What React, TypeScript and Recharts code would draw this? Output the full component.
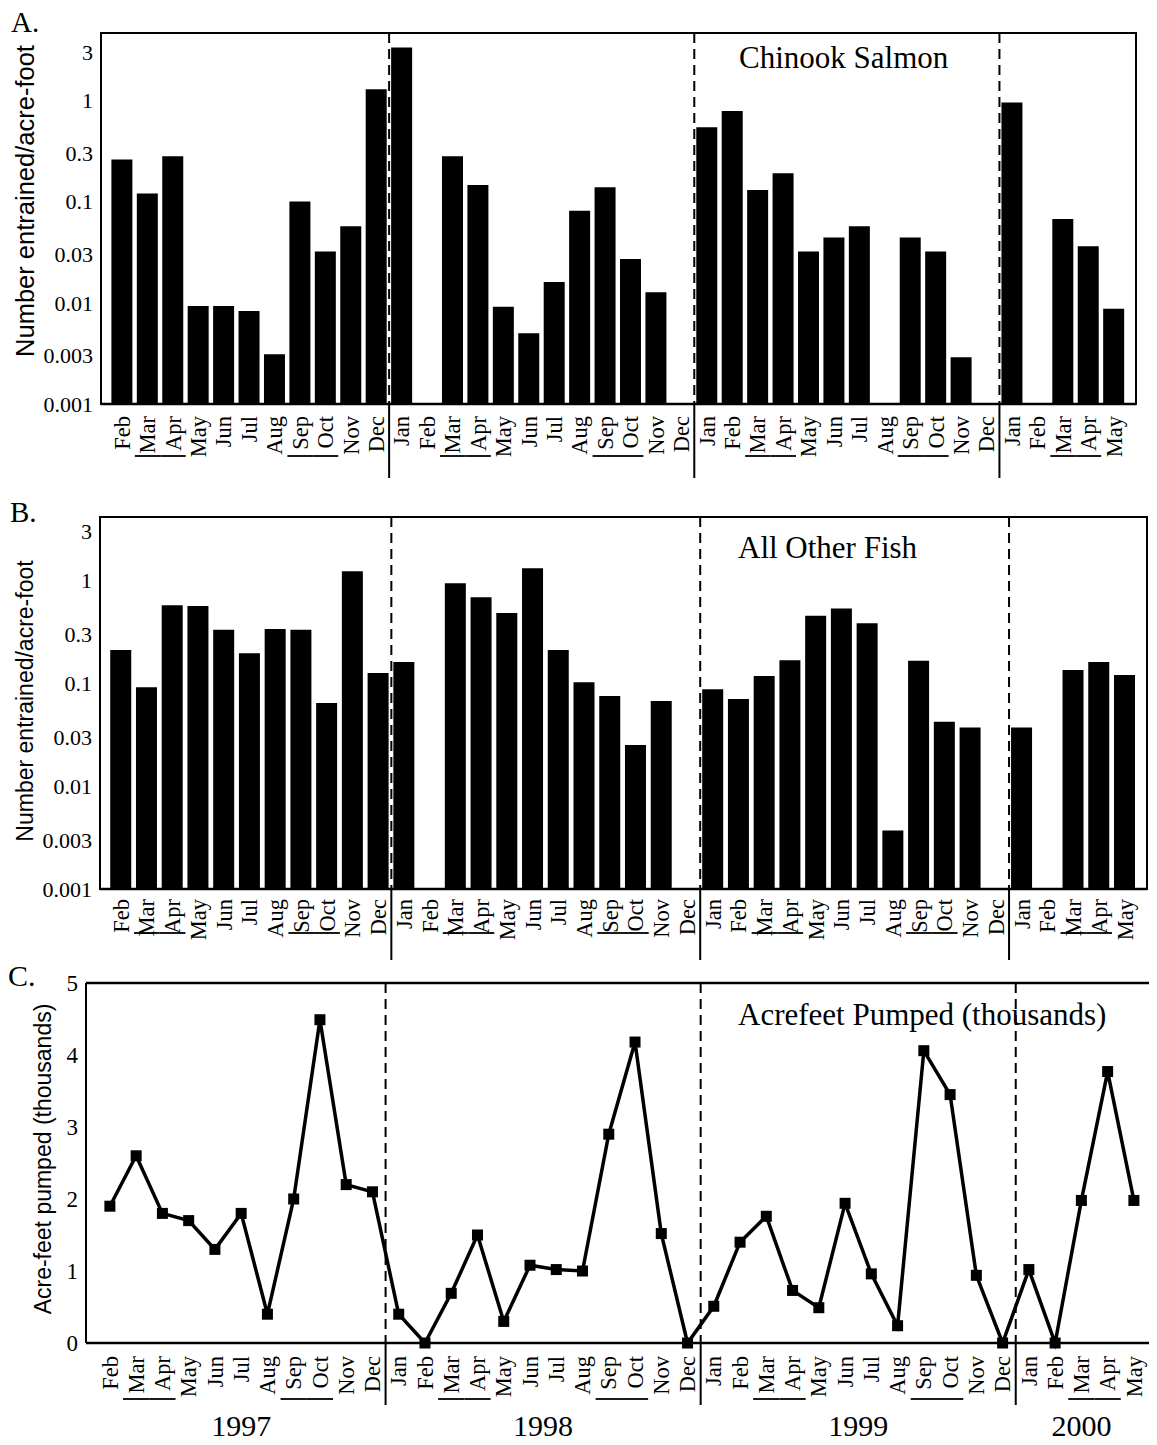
import React from "react";
import {
  Bar,
  BarChart,
  Line,
  LineChart,
  ReferenceArea,
  ReferenceLine,
  XAxis,
  YAxis,
} from "recharts";

// Feb 1997 .. May 2000
const months = [
  "Feb", "Mar", "Apr", "May", "Jun", "Jul", "Aug", "Sep", "Oct", "Nov", "Dec",
  "Jan", "Feb", "Mar", "Apr", "May", "Jun", "Jul", "Aug", "Sep", "Oct", "Nov", "Dec",
  "Jan", "Feb", "Mar", "Apr", "May", "Jun", "Jul", "Aug", "Sep", "Oct", "Nov", "Dec",
  "Jan", "Feb", "Mar", "Apr", "May",
];
const yearLabels = ["1997", "1998", "1999", "2000"];
const monthsPerYear = [11, 12, 12, 5];
const underlinedMonths = ["Mar", "Apr", "Sep", "Oct"];

// number entrained per acre-foot (null = none)
const chinook = [
  0.26, 0.12, 0.28, 0.0093, 0.0093, 0.0083, 0.0031, 0.1, 0.032, 0.057, 1.28,
  3.3, null, 0.28, 0.145, 0.0091, 0.005, 0.016, 0.081, 0.138, 0.027, 0.0127, null,
  0.54, 0.78, 0.13, 0.19, 0.032, 0.044, 0.057, null, 0.044, 0.032, 0.0029, null,
  0.95, null, 0.067, 0.036, 0.0087,
];
const otherFish = [
  0.21, 0.091, 0.57, 0.56, 0.33, 0.195, 0.335, 0.33, 0.064, 1.22, 0.125,
  0.16, null, 0.93, 0.68, 0.48, 1.3, 0.21, 0.102, 0.075, 0.025, 0.067, null,
  0.087, 0.07, 0.117, 0.167, 0.45, 0.53, 0.38, 0.0037, 0.165, 0.042, 0.037, null,
  0.037, null, 0.134, 0.16, 0.12,
];
// acre-feet pumped, thousands
const acreFeet = [
  1.9, 2.6, 1.8, 1.7, 1.3, 1.8, 0.4, 2.0, 4.49, 2.2, 2.1,
  0.4, 0, 0.69, 1.5, 0.3, 1.08, 1.02, 1.0, 2.9, 4.18, 1.52, 0,
  0.51, 1.4, 1.76, 0.73, 0.49, 1.94, 0.96, 0.24, 4.06, 3.45, 0.94, 0,
  1.02, 0, 1.98, 3.77, 1.98,
];

const logTicks = [0.001, 0.003, 0.01, 0.03, 0.1, 0.3, 1, 3];
const pumpTicks = [0, 1, 2, 3, 4, 5];

const data = months.map((m, i) => ({
  i,
  month: m,
  chinook: chinook[i],
  other: otherFish[i],
  pumped: acreFeet[i],
}));
const monthIdx = months.map((_, i) => i);
const yearStarts = monthsPerYear.map((_, k) =>
  monthsPerYear.slice(0, k).reduce((a, b) => a + b, 0)
);
const separators = yearStarts.slice(1).map((s) => s - 0.5);

const W = 1157;
const SERIF = "'Liberation Serif', 'Times New Roman', serif";
const SANS = "'Liberation Sans', Arial, sans-serif";

const geoA = { top: 33, bottom: 404, left: 101, right: 1136, height: 480, xMin: -0.83, xMax: 39.87, yMax: 4.6 };
const geoB = { top: 37, bottom: 409, left: 100, right: 1147, height: 480, xMin: -0.82, xMax: 39.86, yMax: 4.1 };
const geoC = { top: 23, bottom: 383, left: 86, right: 1157, height: 485, xMin: -0.91, xMax: 39.88, yMax: 5 };

const stepOf = (g: typeof geoA) => (g.right - g.left) / (g.xMax - g.xMin);

function MonthTick(props: any) {
  const { x, y, payload, step, gap, underlineDy, showYears } = props;
  const idx = payload.value as number;
  const label = months[idx];
  const k = yearStarts.indexOf(idx);
  return (
    <g>
      <text
        x={x - gap}
        y={y}
        transform={`rotate(-90, ${x}, ${y})`}
        textAnchor="end"
        dy="0.34em"
        fontFamily={SERIF}
        fontSize={22.5}
        fill="#000"
      >
        {label}
      </text>
      {underlinedMonths.includes(label) && (
        <line
          x1={x - step / 2}
          x2={x + step / 2}
          y1={y + underlineDy}
          y2={y + underlineDy}
          stroke="#000"
          strokeWidth={1.8}
        />
      )}
      {showYears && k >= 0 && (
        <text
          x={x + ((monthsPerYear[k] - 1) / 2) * step}
          y={y + 93}
          textAnchor="middle"
          fontFamily={SERIF}
          fontSize={30}
          fill="#000"
        >
          {yearLabels[k]}
        </text>
      )}
    </g>
  );
}

const separatorShape = (ext: number) => (p: any) => {
  const top = Math.min(p.y1, p.y2);
  const bottom = Math.max(p.y1, p.y2);
  return (
    <g>
      <line x1={p.x1} x2={p.x1} y1={top} y2={bottom} stroke="#000" strokeWidth={2} strokeDasharray="10 6" />
      <line x1={p.x1} x2={p.x1} y1={bottom} y2={bottom + ext} stroke="#000" strokeWidth={2} />
    </g>
  );
};

const axisTitle = (text: string, size: number, cx: number, cy: number) => ({
  content: () => (
    <text
      x={cx}
      y={cy}
      transform={`rotate(-90, ${cx}, ${cy})`}
      textAnchor="middle"
      dy="0.35em"
      fontFamily={SANS}
      fontSize={size}
      fill="#000"
    >
      {text}
    </text>
  ),
});

function LogPanel({
  geo,
  dataKey,
  titleSize,
  titleCy,
  gap,
  underlineDy,
  ext,
}: {
  geo: typeof geoA;
  dataKey: string;
  titleSize: number;
  titleCy: number;
  gap: number;
  underlineDy: number;
  ext: number;
}) {
  const step = stepOf(geo);
  return (
    <BarChart
      width={W}
      height={geo.height}
      data={data}
      margin={{ top: geo.top, right: W - geo.right, bottom: 0, left: 0 }}
    >
      <XAxis
        dataKey="i"
        type="number"
        domain={[geo.xMin, geo.xMax]}
        allowDataOverflow
        ticks={monthIdx}
        interval={0}
        height={geo.height - geo.bottom}
        tickLine={false}
        tickSize={0}
        tickMargin={0}
        axisLine={{ stroke: "#000", strokeWidth: 2.5 }}
        tick={<MonthTick step={step} gap={gap} underlineDy={underlineDy} />}
      />
      <YAxis
        scale="log"
        type="number"
        domain={[0.001, geo.yMax]}
        allowDataOverflow
        ticks={logTicks}
        interval={0}
        width={geo.left}
        tickLine={false}
        axisLine={{ stroke: "#000", strokeWidth: 2 }}
        tickFormatter={(v: number) => String(v)}
        tick={{ fontFamily: SERIF, fontSize: 22, fill: "#000" }}
        label={axisTitle("Number entrained/acre-foot", titleSize, 25, titleCy)}
      />
      <ReferenceArea
        x1={geo.xMin}
        x2={geo.xMax}
        y1={0.001}
        y2={geo.yMax}
        fill="none"
        stroke="#000"
        strokeWidth={2}
        ifOverflow="visible"
      />
      {separators.map((s) => (
        <ReferenceLine key={s} x={s} shape={separatorShape(ext)} />
      ))}
      <Bar dataKey={dataKey} fill="#000" barSize={21} isAnimationActive={false} />
    </BarChart>
  );
}

function PumpPanel() {
  const geo = geoC;
  const step = stepOf(geo);
  return (
    <LineChart
      width={W}
      height={geo.height}
      data={data}
      margin={{ top: geo.top, right: W - geo.right, bottom: 0, left: 0 }}
    >
      <XAxis
        dataKey="i"
        type="number"
        domain={[geo.xMin, geo.xMax]}
        allowDataOverflow
        ticks={monthIdx}
        interval={0}
        height={geo.height - geo.bottom}
        tickLine={false}
        tickSize={0}
        tickMargin={0}
        axisLine={{ stroke: "#000", strokeWidth: 2.5 }}
        tick={<MonthTick step={step} gap={13} underlineDy={56} showYears />}
      />
      <YAxis
        type="number"
        domain={[0, geo.yMax]}
        ticks={pumpTicks}
        interval={0}
        width={geo.left}
        tickLine={false}
        axisLine={{ stroke: "#000", strokeWidth: 2 }}
        tick={{ fontFamily: SERIF, fontSize: 23, fill: "#000" }}
        label={axisTitle("Acre-feet pumped (thousands)", 23, 43, 199)}
      />
      <ReferenceLine y={geo.yMax} stroke="#000" strokeWidth={2.5} />
      {separators.map((s) => (
        <ReferenceLine key={s} x={s} shape={separatorShape(62)} />
      ))}
      <Line
        dataKey="pumped"
        type="linear"
        stroke="#000"
        strokeWidth={3.5}
        isAnimationActive={false}
        dot={(p: any) => (
          <rect key={`d${p.index}`} x={p.cx - 5.5} y={p.cy - 5.5} width={11} height={11} fill="#000" />
        )}
      />
    </LineChart>
  );
}

const abs = (left: number, top: number, size: number): React.CSSProperties => ({
  position: "absolute",
  left,
  top,
  fontFamily: SERIF,
  fontSize: size,
  lineHeight: 1,
  whiteSpace: "nowrap",
  color: "#000",
});

export default function App() {
  return (
    <div
      style={{
        position: "relative",
        width: W,
        height: 1445,
        margin: "-8px 0 0 -8px",
        background: "#fff",
        overflow: "hidden",
      }}
    >
      <div style={{ position: "absolute", left: 0, top: 0 }}>
        <LogPanel geo={geoA} dataKey="chinook" titleSize={25.5} titleCy={201} gap={12} underlineDy={52} ext={74} />
      </div>
      <div style={{ position: "absolute", left: 0, top: 480 }}>
        <LogPanel geo={geoB} dataKey="other" titleSize={23} titleCy={221} gap={10} underlineDy={44} ext={72} />
      </div>
      <div style={{ position: "absolute", left: 0, top: 960 }}>
        <PumpPanel />
      </div>
      <div style={abs(11, 8, 29)}>A.</div>
      <div style={abs(10, 498, 29)}>B.</div>
      <div style={abs(8, 961, 30)}>C.</div>
      <div style={abs(739, 42, 31)}>Chinook Salmon</div>
      <div style={abs(738, 532, 31)}>All Other Fish</div>
      <div style={abs(738, 999, 31)}>Acrefeet Pumped (thousands)</div>
    </div>
  );
}
